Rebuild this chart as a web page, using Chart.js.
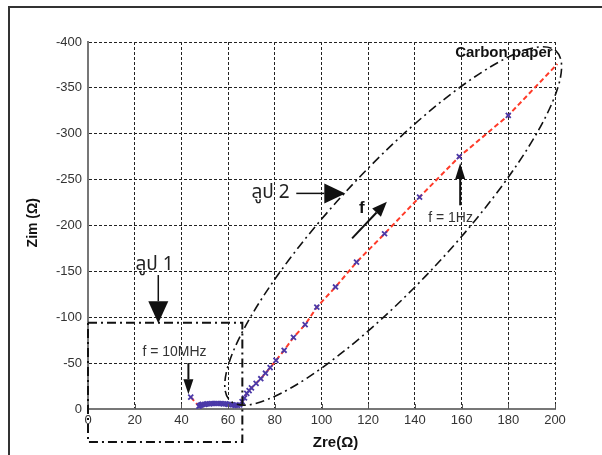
<!DOCTYPE html>
<html>
<head>
<meta charset="utf-8">
<script src="https://cdn.jsdelivr.net/npm/chart.js@4/dist/chart.umd.min.js"></script>
<style>
  html, body { margin: 0; padding: 0; background: #fff; }
  #wrap { width: 602px; height: 455px; }
</style>
</head>
<body>
<div id="wrap"><canvas id="nyquist" width="602" height="455"></canvas></div>
<script>
// measured impedance (Zre, Zim in ohm)
const zre = [44, 47.5, 48, 48.5, 49, 50, 51, 52, 53, 54, 55, 56, 57, 58, 59, 60, 61, 62, 63, 64,
             65, 66, 67, 68, 69, 70, 72, 74, 76, 78, 80.5, 84, 88, 93, 98, 106, 115, 127, 142, 159, 180];
const zim = [-13, -3, -4, -4.5, -5, -5, -5.5, -5.5, -6, -6, -6, -6, -6, -5.5, -5.5, -5, -5, -4.5, -4, -4,
             -4.5, -8, -12, -17, -20, -23, -28, -33, -39, -45, -53, -64, -78, -92, -111, -133, -160, -191, -231, -275, -320];
// end of the red fit line
const fitEndX = 201;
const fitEndY = -376;

const xTicks = [0, 20, 40, 60, 80, 100, 120, 140, 160, 180, 200];
const yTicks = [-400, -350, -300, -250, -200, -150, -100, -50, 0];

const points = zre.map((x, i) => ({ x: x, y: zim[i] }));
const fitLine = points.concat([{ x: fitEndX, y: fitEndY }]);

const FONT = '"Liberation Sans", Arial, sans-serif';
const THAI = '"Noto Sans Thai", "Loma", "Garuda", "Tahoma", "DejaVu Sans", sans-serif';

// annotations, placed in data units
const texts = [
  { s: 'Carbon paper', x: 199, y: -388, align: 'right', font: 'bold 15px ' + FONT, color: '#111' },
  { s: 'ลูป 2', x: 70, y: -234, align: 'left', font: '19px ' + THAI, color: '#222' },
  { s: 'ลูป 1', x: 20.3, y: -156, align: 'left', font: '19px ' + THAI, color: '#222' },
  { s: 'f', x: 117.3, y: -219, align: 'center', font: 'bold 17px ' + FONT, color: '#111' },
  { s: 'f = 1Hz', x: 145.7, y: -208, align: 'left', font: '14px ' + FONT, color: '#333' },
  { s: 'f = 10MHz', x: 23.3, y: -62, align: 'left', font: '14px ' + FONT, color: '#333' }
];
const arrows = [
  { x1: 89.2, y1: -235, x2: 110.2, y2: -235, len: 21, half: 10, w: 1.5 },
  { x1: 30.1, y1: -146, x2: 30.1, y2: -93.5, len: 22, half: 10, w: 1.5 },
  { x1: 113.1, y1: -186, x2: 128, y2: -226, len: 15, half: 6, w: 2 },
  { x1: 159.4, y1: -222, x2: 159.4, y2: -268, len: 16, half: 5, w: 2 },
  { x1: 43, y1: -50, x2: 43, y2: -16, len: 15, half: 5, w: 2 }
];
const loop1Box = { x1: 0, y1: -94, x2: 66.1, y2: 36 };
const loop2Ellipse = { cx: 130.7, cy: -199.5, rx: 239, ry: 58, rot: -47 };

const decor = {
  id: 'decor',
  beforeDraw(chart) {
    const ctx = chart.ctx;
    ctx.save();
    ctx.fillStyle = '#fff';
    ctx.fillRect(0, 0, chart.width, chart.height);
    // figure frame
    ctx.strokeStyle = '#333';
    ctx.lineWidth = 2;
    ctx.beginPath();
    ctx.moveTo(9, chart.height);
    ctx.lineTo(9, 7);
    ctx.lineTo(chart.width, 7);
    ctx.stroke();
    ctx.restore();
  },
  afterDraw(chart) {
    const ctx = chart.ctx;
    const xs = chart.scales.x, ys = chart.scales.y;
    const ca = chart.chartArea;
    ctx.save();
    // small inner ticks on the x axis
    ctx.strokeStyle = '#555';
    ctx.lineWidth = 1;
    xTicks.forEach(t => {
      const px = Math.round(xs.getPixelForValue(t)) + 0.5;
      ctx.beginPath();
      ctx.moveTo(px, ca.bottom);
      ctx.lineTo(px, ca.bottom - 5);
      ctx.stroke();
    });

    // axis titles
    ctx.fillStyle = '#111';
    ctx.textBaseline = 'middle';
    ctx.textAlign = 'center';
    ctx.font = 'bold 15px ' + FONT;
    ctx.fillText('Zre(Ω)', xs.getPixelForValue(106), ca.bottom + 34);
    ctx.save();
    ctx.translate(33, ys.getPixelForValue(-203));
    ctx.rotate(-Math.PI / 2);
    ctx.font = 'bold 14px ' + FONT;
    ctx.fillText('Zim (Ω)', 0, 0);
    ctx.restore();

    // loop 2 ellipse
    ctx.strokeStyle = '#111';
    ctx.lineWidth = 1.6;
    ctx.setLineDash([9, 4, 2, 4]);
    ctx.beginPath();
    ctx.ellipse(xs.getPixelForValue(loop2Ellipse.cx), ys.getPixelForValue(loop2Ellipse.cy),
      loop2Ellipse.rx, loop2Ellipse.ry, loop2Ellipse.rot * Math.PI / 180, 0, Math.PI * 2);
    ctx.stroke();

    // loop 1 box
    ctx.lineWidth = 2;
    ctx.setLineDash([9, 4, 2, 4]);
    const bx1 = xs.getPixelForValue(loop1Box.x1), by1 = ys.getPixelForValue(loop1Box.y1);
    const bx2 = xs.getPixelForValue(loop1Box.x2), by2 = ys.getPixelForValue(loop1Box.y2);
    ctx.strokeRect(bx1, by1, bx2 - bx1, by2 - by1);
    ctx.setLineDash([]);

    // arrows
    ctx.fillStyle = '#111';
    arrows.forEach(a => {
      const x1 = xs.getPixelForValue(a.x1), y1 = ys.getPixelForValue(a.y1);
      const x2 = xs.getPixelForValue(a.x2), y2 = ys.getPixelForValue(a.y2);
      const ang = Math.atan2(y2 - y1, x2 - x1);
      const bxp = x2 - a.len * Math.cos(ang), byp = y2 - a.len * Math.sin(ang);
      ctx.lineWidth = a.w;
      ctx.beginPath();
      ctx.moveTo(x1, y1);
      ctx.lineTo(bxp, byp);
      ctx.stroke();
      ctx.beginPath();
      ctx.moveTo(x2, y2);
      ctx.lineTo(bxp + a.half * Math.sin(ang), byp - a.half * Math.cos(ang));
      ctx.lineTo(bxp - a.half * Math.sin(ang), byp + a.half * Math.cos(ang));
      ctx.closePath();
      ctx.fill();
    });

    // labels
    ctx.textBaseline = 'middle';
    texts.forEach(t => {
      ctx.font = t.font;
      ctx.fillStyle = t.color;
      ctx.textAlign = t.align;
      ctx.fillText(t.s, xs.getPixelForValue(t.x), ys.getPixelForValue(t.y));
    });
    ctx.restore();
  }
};

const ctx = document.getElementById('nyquist').getContext('2d');
new Chart(ctx, {
  type: 'scatter',
  data: {
    datasets: [
      {
        label: 'fit',
        data: fitLine,
        showLine: true,
        borderColor: '#ff3a28',
        borderWidth: 2,
        borderDash: [5, 3],
        pointRadius: 0,
        clip: false,
        order: 2
      },
      {
        label: 'Carbon paper',
        data: points,
        showLine: false,
        pointStyle: 'crossRot',
        pointRadius: 3.5,
        borderColor: '#4a39a8',
        pointBorderWidth: 1.8,
        order: 1
      }
    ]
  },
  options: {
    responsive: false,
    animation: false,
    layout: { padding: { top: 42, right: 47, left: 0, bottom: 0 } },
    plugins: { legend: { display: false }, tooltip: { enabled: false } },
    scales: {
      x: {
        type: 'linear',
        min: 0,
        max: 200,
        afterFit: s => { s.height = 46; },
        afterBuildTicks: s => { s.ticks = xTicks.map(v => ({ value: v })); },
        ticks: { color: '#333', font: { family: FONT, size: 13 }, padding: 4, maxRotation: 0 },
        grid: { color: '#222', lineWidth: 1, drawTicks: false },
        border: { display: true, color: '#777', width: 2, dash: [3, 2] }
      },
      y: {
        type: 'linear',
        min: -400,
        max: 0,
        reverse: true,
        afterFit: s => { s.width = 88; },
        afterBuildTicks: s => { s.ticks = yTicks.map(v => ({ value: v })); },
        ticks: { color: '#333', font: { family: FONT, size: 13 }, padding: 6 },
        grid: { color: '#222', lineWidth: 1, drawTicks: false },
        border: { display: true, color: '#777', width: 2, dash: [3, 2] }
      }
    }
  },
  plugins: [decor]
});
</script>
</body>
</html>
